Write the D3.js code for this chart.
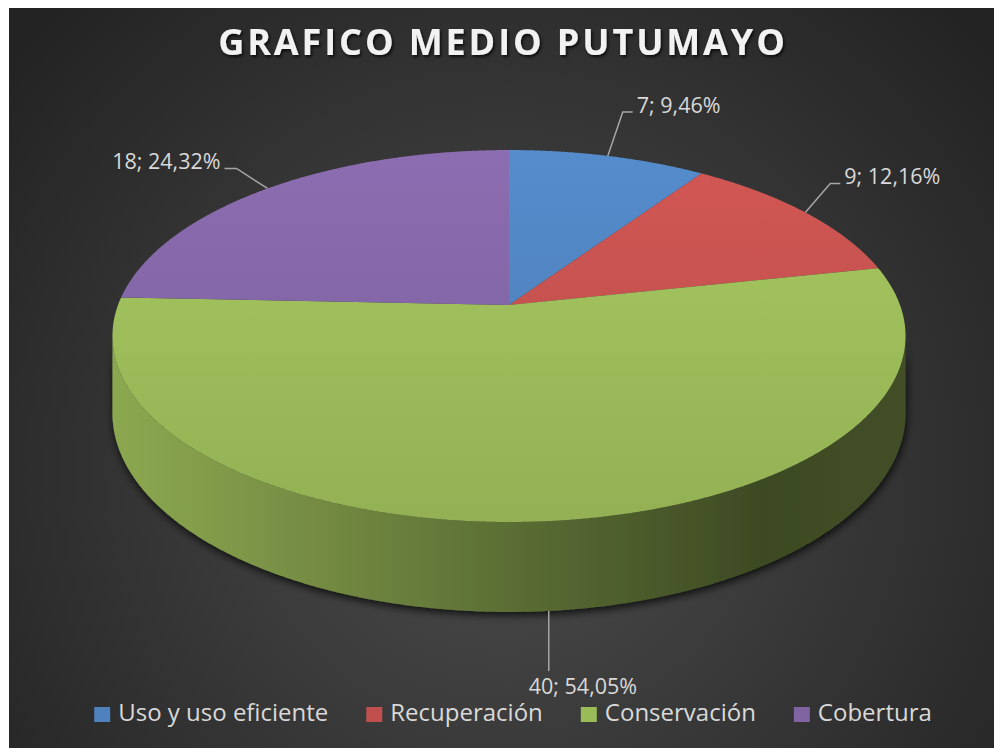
<!DOCTYPE html>
<html><head><meta charset="utf-8">
<script src="https://cdn.jsdelivr.net/npm/d3@7"></script>
<style>html,body{margin:0;padding:0;background:#fff;}svg{display:block;}</style>
</head><body>
<script>
// ---- data ----
const title = "GRAFICO MEDIO PUTUMAYO";
const categories = ["Uso y uso eficiente", "Recuperación", "Conservación", "Cobertura"];
const values = [7, 9, 40, 18];
const colors = ["#4f81bd", "#c0504d", "#9bbb59", "#8064a2"];

// ---- layout ----
const W = 994, H = 748;
const svg = d3.select("body").append("svg").attr("width", W).attr("height", H);
const defs = svg.append("defs");
const FONT = "'Open Sans', 'DejaVu Sans', sans-serif";

// background
const bg = defs.append("radialGradient").attr("id", "bg").attr("gradientUnits", "userSpaceOnUse")
  .attr("cx", 505).attr("cy", 470).attr("r", 640);
bg.append("stop").attr("offset", 0).attr("stop-color", "#4c4c4c");
bg.append("stop").attr("offset", 1).attr("stop-color", "#232323");
svg.append("rect").attr("x", 9).attr("y", 8).attr("width", W - 9).attr("height", H - 8).attr("fill", "url(#bg)");

// filters
const ts = defs.append("filter").attr("id", "tshadow").attr("x", "-10%").attr("y", "-30%").attr("width", "120%").attr("height", "160%");
ts.append("feDropShadow").attr("dx", 1.5).attr("dy", 2).attr("stdDeviation", 1.5).attr("flood-color", "#000").attr("flood-opacity", 0.75);
const ps = defs.append("filter").attr("id", "pshadow").attr("x", "-10%").attr("y", "-10%").attr("width", "120%").attr("height", "130%");
ps.append("feDropShadow").attr("dx", 1).attr("dy", 3).attr("stdDeviation", 4).attr("flood-color", "#000").attr("flood-opacity", 0.8);

// title
svg.append("text").attr("x", 503).attr("y", 55).attr("text-anchor", "middle")
  .attr("font-family", FONT).attr("font-weight", 700).attr("font-size", 36)
  .attr("letter-spacing", 2.9).attr("fill", "#f2f2f2").attr("filter", "url(#tshadow)").text(title);

// ---- 3D pie projection ----
const cx = 509, cy = 305, A = 391, B = 180.8, D = 75, k = 0.1667;
function proj(a, r, z) {
  const X = r * Math.sin(a), Y = -r * Math.cos(a);
  const w = 1 - k * Y;
  return [cx + A * X / w, cy + (B * Y + D * z) / w];
}
const pie = d3.pie().sort(null).value(d => d)(values);
const line = d3.line();
const step = Math.PI / 720;
function arcPts(a0, a1, z) {
  const n = Math.max(2, Math.ceil((a1 - a0) / step));
  return d3.range(n + 1).map(i => proj(a0 + (a1 - a0) * i / n, 1, z));
}
const aR = Math.acos(-k), aL = 2 * Math.PI - aR;

// side walls
const sideG = svg.append("g").attr("filter", "url(#pshadow)");
pie.forEach((p, i) => {
  const s = Math.max(p.startAngle, aR), e = Math.min(p.endAngle, aL);
  if (e <= s) return;
  const base = d3.color(colors[i]);
  const gid = "side" + i;
  const g = defs.append("linearGradient").attr("id", gid).attr("gradientUnits", "userSpaceOnUse")
    .attr("x1", cx - 397).attr("x2", cx + 397).attr("y1", 0).attr("y2", 0);
  [[0, 0.3], [0.12, 0.5], [0.5, 1.5], [0.82, 2.6], [1, 2.4]].forEach(([o, d]) =>
    g.append("stop").attr("offset", o).attr("stop-color", base.darker(d)));
  const top = arcPts(s, e, 0), bot = arcPts(s, e, 1).reverse();
  sideG.append("path").attr("d", line(top.concat(bot)) + "Z").attr("fill", `url(#${gid})`);
});

// top faces
const lighten = [0.22, 0.25, 0.2, 0.25];
pie.forEach((p, i) => {
  const base = d3.color(colors[i]);
  const gid = "top" + i;
  const g = defs.append("linearGradient").attr("id", gid).attr("gradientUnits", "userSpaceOnUse")
    .attr("x1", 0).attr("x2", 0).attr("y1", cy - 155).attr("y2", cy + 217);
  g.append("stop").attr("offset", 0).attr("stop-color", base.brighter(lighten[i]));
  g.append("stop").attr("offset", 1).attr("stop-color", base.darker(0.15));
  const pts = [proj(0, 0, 0)].concat(arcPts(p.startAngle, p.endAngle, 0));
  svg.append("path").attr("d", line(pts) + "Z").attr("fill", `url(#${gid})`);
});

// ---- data labels ----
const loc = d3.formatLocale({decimal: ",", thousands: ".", grouping: [3], currency: ["", "€"]});
const fmtPct = loc.format(".2%");
const total = d3.sum(values);
const lblG = svg.append("g").attr("font-family", FONT).attr("font-size", 21.5).attr("fill", "#d9d9d9");
// leader elbows relative to slice anchor (layout only)
const elbow = [[15, -44], [25, -29], [0, 60], [-31, -20]];
pie.forEach((p, i) => {
  const mid = (p.startAngle + p.endAngle) / 2;
  const front = mid > aR && mid < aL;
  const [x0, y0] = proj(mid, 1, front ? 1 : 0);
  const txt = `${values[i]}; ${fmtPct(values[i] / total)}`;
  const [ex, ey] = elbow[i];
  const x1 = x0 + ex, y1 = y0 + ey;
  let pts, tx, ty, anchor;
  if (front) {
    pts = [[x0, y0], [x1, y1]];
    tx = x1 - 20; ty = y1 + 23; anchor = "start";
  } else if (ex > 0) {
    pts = [[x0, y0], [x1, y1], [x1 + 10, y1]];
    tx = x1 + 14; ty = y1 + 1; anchor = "start";
  } else {
    pts = [[x0, y0], [x1, y1], [x1 - 12, y1]];
    tx = x1 - 16; ty = y1 + 1; anchor = "end";
  }
  lblG.append("path").attr("d", line(pts)).attr("fill", "none").attr("stroke", "#a6a6a6").attr("stroke-width", 1.5);
  lblG.append("text").attr("x", tx).attr("y", ty).attr("text-anchor", anchor).text(txt);
});

// ---- legend ----
const leg = svg.append("g").attr("font-family", FONT).attr("font-size", 24).attr("fill", "#d9d9d9");
const items = categories.map((c, i) => {
  const g = leg.append("g");
  g.append("rect").attr("x", 0).attr("y", -14).attr("width", 16).attr("height", 15).attr("fill", colors[i]);
  const t = g.append("text").attr("x", 24).attr("y", 0).text(c);
  return {g, w: 24 + t.node().getComputedTextLength()};
});
const gap = 38;
const totalW = d3.sum(items, d => d.w) + gap * (items.length - 1);
let lx = 513 - totalW / 2;
items.forEach(it => { it.g.attr("transform", `translate(${lx},721)`); lx += it.w + gap; });
</script>
</body></html>
